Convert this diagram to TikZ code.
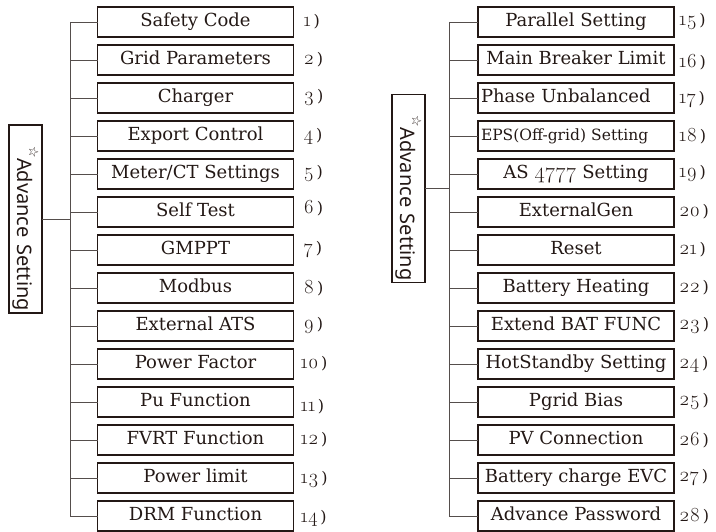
\documentclass[tikz,border=0pt]{standalone}
\usepackage{fontspec}
\setmainfont{DejaVu Serif}
\newfontfamily\labelfont{Noto Sans}
\newfontfamily\starfont{DejaVu Sans}
\newfontfamily\numfont[Numbers=OldStyle]{Latin Modern Roman}
\usepackage{tikz}
\usetikzlibrary{positioning}
\definecolor{inkdark}{RGB}{35,24,21}
\definecolor{treegray}{RGB}{85,78,76}
\newcommand{\stepno}[1]{{\numfont\fontsize{20}{22}\selectfont #1}\,)}
\newcommand{\oldnum}[1]{{\numfont\fontsize{22}{22}\selectfont #1}}

\begin{document}
\begin{tikzpicture}[
			x=1pt, y=1pt,
			node distance=8pt,
			item/.style={rectangle, draw=inkdark, line width=1.3pt, outer sep=0pt, minimum width=196pt, minimum height=30pt, inner sep=2pt, text height=13pt, text depth=4pt, text=inkdark, font=\fontsize{18}{20}\selectfont},
			leftitem/.style={item, text width=190pt, align=left, inner xsep=3pt},
			rootbox/.style={rectangle, draw=inkdark, line width=1.1pt, outer sep=0pt, rotate=-90, minimum height=33pt, text width=184pt, align=right, inner xsep=2pt, inner ysep=1pt, text=inkdark, font=\labelfont\fontsize{20}{22}\selectfont},
			num/.style={text=inkdark, inner sep=0pt, font=\fontsize{16}{18}\selectfont},
			branch/.style={draw=treegray, line width=0.9pt}
		]
		\useasboundingbox (0,0) rectangle (716,-532);
		
		% Left root
		\node[rootbox] (lroot) at (25.5,-219) {{\starfont\raisebox{0.6em}{\fontsize{13}{13}\selectfont ☆}}Advance Setting};
		
		% Left items
		\node[item] (s1) at (195.5,-22) {Safety Code};
		\node[item, below=of s1] (s2) {Grid Parameters};
		\node[item, below=of s2] (s3) {Charger};
		\node[item, below=of s3] (s4) {Export Control};
		\node[item, below=of s4] (s5) {Meter/CT Settings};
		\node[item, below=of s5] (s6) {Self Test};
		\node[item, below=of s6] (s7) {GMPPT};
		\node[item, below=of s7] (s8) {Modbus};
		\node[item, below=of s8] (s9) {External ATS};
		\node[item, below=of s9] (s10) {Power Factor};
		\node[item, below=of s10] (s11) {Pu Function};
		\node[item, below=of s11] (s12) {FVRT Function};
		\node[item, below=of s12] (s13) {Power limit};
		\node[item, below=of s13] (s14) {DRM Function};
		
		% Left numbers
		\node[num, right=10pt of s1] (n1) {\stepno{1}};
		\node[num, right=10pt of s2] (n2) {\stepno{2}};
		\node[num, right=10pt of s3] (n3) {\stepno{3}};
		\node[num, right=10pt of s4] (n4) {\stepno{4}};
		\node[num, right=10pt of s5] (n5) {\stepno{5}};
		\node[num, right=10pt of s6, yshift=4pt] (n6) {\stepno{6}};
		\node[num, right=10pt of s7] (n7) {\stepno{7}};
		\node[num, right=10pt of s8] (n8) {\stepno{8}};
		\node[num, right=10pt of s9] (n9) {\stepno{9}};
		\node[num, right=7pt of s10] (n10) {\stepno{10}};
		\node[num, right=7pt of s11, yshift=-5pt] (n11) {\stepno{11}};
		\node[num, right=7pt of s12] (n12) {\stepno{12}};
		\node[num, right=7pt of s13, yshift=-2pt] (n13) {\stepno{13}};
		\node[num, right=7pt of s14, yshift=-2pt] (n14) {\stepno{14}};
		
		% Left tree
		\coordinate (ltrunk) at (70,0);
		\draw[branch] (lroot.north) -- (lroot.north -| ltrunk);
		\draw[branch] (ltrunk |- s1.west) -- (ltrunk |- s14.west);
		\draw[branch] (ltrunk |- s1.west) -- (s1.west);
		\draw[branch] (ltrunk |- s2.west) -- (s2.west);
		\draw[branch] (ltrunk |- s3.west) -- (s3.west);
		\draw[branch] (ltrunk |- s4.west) -- (s4.west);
		\draw[branch] (ltrunk |- s5.west) -- (s5.west);
		\draw[branch] (ltrunk |- s6.west) -- (s6.west);
		\draw[branch] (ltrunk |- s7.west) -- (s7.west);
		\draw[branch] (ltrunk |- s8.west) -- (s8.west);
		\draw[branch] (ltrunk |- s9.west) -- (s9.west);
		\draw[branch] (ltrunk |- s10.west) -- (s10.west);
		\draw[branch] (ltrunk |- s11.west) -- (s11.west);
		\draw[branch] (ltrunk |- s12.west) -- (s12.west);
		\draw[branch] (ltrunk |- s13.west) -- (s13.west);
		\draw[branch] (ltrunk |- s14.west) -- (s14.west);
		
		% Right root
		\node[rootbox] (rroot) at (408.5,-188.5) {{\starfont\raisebox{0.6em}{\fontsize{13}{13}\selectfont ☆}}Advance Setting};
		
		% Right items
		\node[item] (r15) at (576,-22) {Parallel Setting};
		\node[item, below=of r15] (r16) {Main Breaker Limit};
		\node[leftitem, below=of r16] (r17) {Phase Unbalanced};
		\node[leftitem, below=of r17, font=\fontsize{15.5}{17}\selectfont] (r18) {EPS(Off-grid) Setting};
		\node[item, below=of r18] (r19) {AS \oldnum{4777} Setting};
		\node[item, below=of r19] (r20) {ExternalGen};
		\node[item, below=of r20] (r21) {Reset};
		\node[item, below=of r21] (r22) {Battery Heating};
		\node[item, below=of r22] (r23) {Extend BAT FUNC};
		\node[item, below=of r23] (r24) {HotStandby Setting};
		\node[item, below=of r24] (r25) {Pgrid Bias};
		\node[item, below=of r25] (r26) {PV Connection};
		\node[item, below=of r26] (r27) {Battery charge EVC};
		\node[item, below=of r27] (r28) {Advance Password};
		
		% Right numbers
		\node[num, right=5pt of r15] (n15) {\stepno{15}};
		\node[num, right=5pt of r16, yshift=-2pt] (n16) {\stepno{16}};
		\node[num, right=5pt of r17, yshift=-2pt] (n17) {\stepno{17}};
		\node[num, right=5pt of r18] (n18) {\stepno{18}};
		\node[num, right=5pt of r19] (n19) {\stepno{19}};
		\node[num, right=5pt of r20] (n20) {\stepno{20}};
		\node[num, right=5pt of r21] (n21) {\stepno{21}};
		\node[num, right=5pt of r22] (n22) {\stepno{22}};
		\node[num, right=5pt of r23] (n23) {\stepno{23}};
		\node[num, right=5pt of r24] (n24) {\stepno{24}};
		\node[num, right=5pt of r25] (n25) {\stepno{25}};
		\node[num, right=5pt of r26] (n26) {\stepno{26}};
		\node[num, right=5pt of r27] (n27) {\stepno{27}};
		\node[num, right=5pt of r28] (n28) {\stepno{28}};
		
		% Right tree
		\coordinate (rtrunk) at (449,0);
		\draw[branch] (rroot.north) -- (rroot.north -| rtrunk);
		\draw[branch] (rtrunk |- r15.west) -- (rtrunk |- r28.west);
		\draw[branch] (rtrunk |- r15.west) -- (r15.west);
		\draw[branch] (rtrunk |- r16.west) -- (r16.west);
		\draw[branch] (rtrunk |- r17.west) -- (r17.west);
		\draw[branch] (rtrunk |- r18.west) -- (r18.west);
		\draw[branch] (rtrunk |- r19.west) -- (r19.west);
		\draw[branch] (rtrunk |- r20.west) -- (r20.west);
		\draw[branch] (rtrunk |- r21.west) -- (r21.west);
		\draw[branch] (rtrunk |- r22.west) -- (r22.west);
		\draw[branch] (rtrunk |- r23.west) -- (r23.west);
		\draw[branch] (rtrunk |- r24.west) -- (r24.west);
		\draw[branch] (rtrunk |- r25.west) -- (r25.west);
		\draw[branch] (rtrunk |- r26.west) -- (r26.west);
		\draw[branch] (rtrunk |- r27.west) -- (r27.west);
		\draw[branch] (rtrunk |- r28.west) -- (r28.west);
		
\end{tikzpicture}
\end{document}
